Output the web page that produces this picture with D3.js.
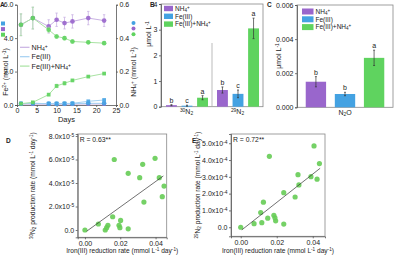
<!DOCTYPE html>
<html>
<head>
<meta charset="utf-8">
<script src="https://cdn.jsdelivr.net/npm/d3@7"></script>
<style>
  body { margin: 0; background: #fff; }
  svg { display: block; }
</style>
</head>
<body>
<div id="chart"></div>
<script>
// ---- Panel A: time course ----
const days = [1, 4, 8, 10, 12, 14, 18, 22];
// Fe2+ (left axis, squares)
const fe2NH4 = [0.05, 0.05, 0.05, 0.05, 0.05, 0.05, 0.06, 0.06];
const fe2Fe = [0.08, 0.1, 0.08, 0.08, 0.09, 0.1, 0.22, 0.3];
const fe2FeNH4 = [0.08, 0.16, 0.62, 1.14, 1.3, 1.47, 1.7, 1.88];
const fe2FeNH4Err = [0.02, 0.03, 0.06, 0.1, 0.1, 0.06, 0.05, 0.05];
// NH4+ (right axis, circles)
const nh4Fe = [0.008, 0.01, 0.008, 0.008, 0.008, 0.008, 0.01, 0.01];
const nh4NH4 = [0.48, 0.52, 0.47, 0.51, 0.49, 0.50, 0.52, 0.505];
const nh4NH4Err = [0.065, 0.065, 0.04, 0.04, 0.035, 0.04, 0.04, 0.035];
const nh4FeNH4 = [0.48, 0.52, 0.45, 0.41, 0.40, 0.38, 0.375, 0.37];
const nh4FeNH4Err = [0.065, 0.065, 0.015, 0.01, 0.01, 0.01, 0.008, 0.008];

// ---- Panels B, C: bars ----
const treatments = ['NH4+', 'Fe(III)', 'Fe(III)+NH4+'];
const treatmentLabels = ['NH_{4}^{+}', 'Fe(III)', 'Fe(III)+NH_{4}^{+}'];
const isotopes = ['30N2', '29N2'];
const isotopeLabels = ['^{30}N_{2}', '^{29}N_{2}'];
const n30Mean = [0.06, 0.04, 0.35];
const n30Err = [0.02, 0.02, 0.08];
const n30Letters = ['b', 'c', 'a'];
const n29Mean = [0.65, 0.50, 3.05];
const n29Err = [0.12, 0.15, 0.4];
const n29Letters = ['b', 'c', 'a'];
const n2oMean = [0.0015, 0.00078, 0.0029];
const n2oErr = [0.0003, 0.0001, 0.00045];
const n2oLetters = ['b', 'b', 'a'];

// ---- Panels D, E: scatter vs iron(III) reduction rate ----
const dX = [0, 0.0076, 0.0115, 0.0123, 0.013, 0.0157, 0.0166, 0.0193, 0.0198, 0.0202, 0.0245, 0.0245, 0.031, 0.0327, 0.0334, 0.0397, 0.0421, 0.0438, 0.0448];
const dY = [0, 0.51e-5, 0.0, 0.2e-5, 0.4e-5, 1.13e-5, 6.0e-5, 0.4e-5, 0.2e-5, 0.82e-5, 4.82e-5, 0.1e-5, 4.45e-5, 5.59e-5, 2.38e-5, 6.1e-5, 4.45e-5, 2.84e-5, 3.74e-5];
const dFitX = [0.001, 0.0444];
const dFitY = [-0.1e-5, 4.6e-5];
const dR = 'R = 0.63**';

const eX = [0, 0.0074, 0.0111, 0.0117, 0.0126, 0.015, 0.0159, 0.0184, 0.019, 0.0194, 0.0239, 0.0239, 0.0302, 0.0318, 0.0323, 0.039, 0.0407, 0.0424, 0.0437];
const eY = [0, 0.21e-4, 0.87e-4, 0.27e-4, 1.49e-4, 0.54e-4, 4.22e-4, 0.71e-4, 0.56e-4, 0.38e-4, 2.06e-4, 0.19e-4, 1.8e-4, 3.13e-4, 2.52e-4, 3.01e-4, 4.84e-4, 2.86e-4, 3.79e-4];
const eFitX = [0.0006, 0.0441];
const eFitY = [-0.16e-4, 3.51e-4];
const eR = 'R = 0.72**';

const FONT = "'Liberation Sans', Arial, sans-serif";
const PURPLE = '#9966cc', BLUE = '#44a2e2', GREEN = '#5fd35f';
const colors = [PURPLE, BLUE, GREEN];
const AXIS = '#555';

const svg = d3.select('#chart').append('svg')
    .attr('width', 400).attr('height', 258)
    .style('font-family', FONT);

// text with _{sub} and ^{sup}; shifts in px from the font size
function rich(sel, str, size) {
    const re = /([_^])\{([^}]*)\}/g;
    let last = 0, m;
    sel.text(null);
    while ((m = re.exec(str))) {
        if (m.index > last) sel.append('tspan').text(str.slice(last, m.index));
        sel.append('tspan')
            .attr('baseline-shift', m[1] === '^' ? (0.34 * size).toFixed(2) : (-0.13 * size).toFixed(2))
            .attr('font-size', (0.7 * size).toFixed(2))
            .text(m[2]);
        last = re.lastIndex;
    }
    if (last < str.length) sel.append('tspan').text(str.slice(last));
    return sel;
}

function label(x, y, str, size, opts = {}) {
    const t = svg.append('text')
        .attr('x', x).attr('y', y)
        .attr('font-size', size)
        .attr('fill', '#222')
        .attr('text-anchor', opts.anchor || 'start');
    if (opts.rotate) t.attr('transform', `rotate(-90,${x},${y})`);
    if (opts.bold) t.attr('font-weight', 'bold');
    return rich(t, str, size);
}

function styleAxis(g, size = 7) {
    g.attr('font-family', FONT).attr('font-size', size);
    g.select('.domain').attr('stroke', AXIS).attr('stroke-width', 0.8);
    g.selectAll('.tick line').attr('stroke', AXIS).attr('stroke-width', 0.8);
    g.selectAll('.tick text').attr('fill', '#222');
    return g;
}

function box(x, y) {
    svg.append('rect')
        .attr('x', x.range()[0]).attr('y', y.range()[1])
        .attr('width', x.range()[1] - x.range()[0])
        .attr('height', y.range()[0] - y.range()[1])
        .attr('fill', 'none').attr('stroke', '#888').attr('stroke-width', 0.8);
}

// ================= Panel A =================
const xA = d3.scaleLinear().domain([0, 25]).range([17, 116]);
const yAL = d3.scaleLinear().domain([0, 6]).range([105, 4.7]);
const yAR = d3.scaleLinear().domain([0, 0.6]).range([105, 4.7]);

styleAxis(svg.append('g').attr('transform', `translate(0,${yAL(0)})`)
    .call(d3.axisBottom(xA).tickValues([0, 5, 10, 15, 20, 25]).tickSize(2).tickPadding(1.5)));
styleAxis(svg.append('g').attr('transform', `translate(${xA(0)},0)`)
    .call(d3.axisLeft(yAL).tickValues([0, 2, 4, 6]).tickSize(2).tickPadding(1.5)));
styleAxis(svg.append('g').attr('transform', `translate(${xA(25)},0)`)
    .call(d3.axisRight(yAR).tickValues([0, 0.2, 0.4, 0.6]).tickFormat(d3.format('.1f')).tickSize(2).tickPadding(1.5)));

const lineColors = ['#c9b2e3', '#a3d0f2', '#a9e3a3'];

function seriesA(vals, errs, y, col, lineCol, shape) {
    const pts = days.map((d, i) => ({ x: d, y: vals[i], e: errs ? errs[i] : 0 }));
    svg.append('path').datum(pts)
        .attr('d', d3.line().x(d => xA(d.x)).y(d => y(d.y)))
        .attr('fill', 'none').attr('stroke', lineCol).attr('stroke-width', 1);
    if (errs) {
        const g = svg.append('g').attr('stroke', lineCol).attr('stroke-width', 0.8);
        pts.forEach(p => {
            g.append('line').attr('x1', xA(p.x)).attr('x2', xA(p.x))
                .attr('y1', y(p.y - p.e)).attr('y2', y(p.y + p.e));
            [p.y - p.e, p.y + p.e].forEach(v => g.append('line')
                .attr('x1', xA(p.x) - 1.2).attr('x2', xA(p.x) + 1.2)
                .attr('y1', y(v)).attr('y2', y(v)));
        });
    }
    const sym = d3.symbol().type(shape === 'square' ? d3.symbolSquare : d3.symbolCircle).size(shape === 'square' ? 14 : 17);
    svg.append('g').selectAll('path').data(pts).join('path')
        .attr('transform', d => `translate(${xA(d.x)},${y(d.y)})`)
        .attr('d', sym)
        .attr('fill', col).attr('fill-opacity', 0.9);
}

seriesA(fe2NH4, null, yAL, PURPLE, lineColors[0], 'square');
seriesA(nh4Fe, null, yAR, BLUE, lineColors[1], 'circle');
seriesA(fe2Fe, null, yAL, BLUE, lineColors[1], 'square');
seriesA(fe2FeNH4, fe2FeNH4Err, yAL, GREEN, lineColors[2], 'square');
seriesA(nh4NH4, nh4NH4Err, yAR, PURPLE, lineColors[0], 'circle');
seriesA(nh4FeNH4, nh4FeNH4Err, yAR, GREEN, lineColors[2], 'circle');

// legend inside A
treatmentLabels.forEach((t, i) => {
    const y = 47.3 + i * 9.4;
    svg.append('line').attr('x1', 20).attr('x2', 29.5).attr('y1', y).attr('y2', y)
        .attr('stroke', lineColors[i]).attr('stroke-width', 1.2);
    label(31.5, y + 2.5, t, 7.2);
});
// colour keys beside the axis titles
[BLUE, PURPLE, GREEN].forEach((c, i) => {
    const y = 23.5 + i * 5.6;
    svg.append('rect').attr('x', 1).attr('y', y - 2).attr('width', 4).attr('height', 4).attr('fill', c);
    svg.append('circle').attr('cx', 133.5).attr('cy', y - 0.5).attr('r', 2).attr('fill', c);
});
label(7.5, 72, 'Fe^{2+} (mmol L^{-1})', 7, { rotate: true, anchor: 'middle' });
label(135.5, 72, 'NH_{4}^{+} (mmol L^{-1})', 7, { rotate: true, anchor: 'middle' });
label(66.5, 122, 'Days', 7.5, { anchor: 'middle' });
label(0, 6.5, 'A', 6.5, { bold: true });

// ================= Panel B =================
const xB0 = d3.scaleBand().domain(isotopes).range([161, 263]);
const xB1 = d3.scaleBand().domain(treatments).range([5, 47]).paddingInner(0.3);
const yB = d3.scaleLinear().domain([0, 4]).range([106.7, 4]);
box(d3.scaleLinear().range([161, 263]), yB);
styleAxis(svg.append('g').attr('transform', `translate(161,0)`)
    .call(d3.axisLeft(yB).ticks(4).tickSize(2).tickPadding(1.5)));
svg.append('line').attr('x1', xB0('29N2')).attr('x2', xB0('29N2'))
    .attr('y1', 43).attr('y2', yB(0)).attr('stroke', '#aaa').attr('stroke-width', 0.8);

function bars(xOf, w, y, means, errs, letters) {
    means.forEach((m, i) => {
        const x = xOf(i);
        svg.append('rect').attr('x', x).attr('y', y(m)).attr('width', w)
            .attr('height', y(0) - y(m)).attr('fill', colors[i]);
        const cx = x + w / 2;
        const g = svg.append('g').attr('stroke', '#333').attr('stroke-width', 0.7);
        g.append('line').attr('x1', cx).attr('x2', cx).attr('y1', y(Math.max(0, m - errs[i]))).attr('y2', y(m + errs[i]));
        [m - errs[i], m + errs[i]].forEach(v => g.append('line')
            .attr('x1', cx - 1).attr('x2', cx + 1).attr('y1', y(Math.max(0, v))).attr('y2', y(Math.max(0, v))));
        label(cx, y(m + errs[i]) - 2, letters[i], 7, { anchor: 'middle' });
    });
}
bars(i => xB0('30N2') + xB1(treatments[i]), xB1.bandwidth(), yB, n30Mean, n30Err, n30Letters);
bars(i => xB0('29N2') + xB1(treatments[i]), xB1.bandwidth(), yB, n29Mean, n29Err, n29Letters);
isotopes.forEach((iso, i) => label(xB0(iso) + xB0.bandwidth() / 2, 113.5, isotopeLabels[i], 7, { anchor: 'middle' }));
treatmentLabels.forEach((t, i) => {
    const y = 8.5 + i * 7.8;
    svg.append('rect').attr('x', 164).attr('y', y - 2.7).attr('width', 9).attr('height', 5.4).attr('fill', colors[i]);
    label(175, y + 2.3, t, 6.5);
});
label(151, 34, 'μmol L^{-1}', 7, { rotate: true, anchor: 'middle' });
label(150, 6.5, 'B', 6.5, { bold: true });

// ================= Panel C =================
const xC = d3.scaleBand().domain(treatments).range([297, 393]).padding(0.3);
const yC = d3.scaleLinear().domain([0, 0.006]).range([107.3, 5]);
box(d3.scaleLinear().range([297, 393]), yC);
styleAxis(svg.append('g').attr('transform', `translate(297,0)`)
    .call(d3.axisLeft(yC).tickValues([0, 0.002, 0.004, 0.006]).tickFormat(d3.format('.3f')).tickSize(2).tickPadding(1.5)));
bars(i => xC(treatments[i]), xC.bandwidth(), yC, n2oMean, n2oErr, n2oLetters);
label(345, 115, 'N_{2}O', 7, { anchor: 'middle' });
treatmentLabels.forEach((t, i) => {
    const y = 11.5 + i * 7.8;
    svg.append('rect').attr('x', 302).attr('y', y - 3).attr('width', 11.5).attr('height', 6).attr('fill', colors[i]);
    label(315.5, y + 2.3, t, 6.5);
});
label(281, 56, 'μmol L^{-1}', 7, { rotate: true, anchor: 'middle' });
label(267, 6.5, 'C', 6.5, { bold: true });

// ================= Panels D, E =================
function scatterPanel(xs, ys, fitX, fitY, rText, xRange, xDomain, yRange, yDomain, yTicks, exp, yTitle, letter, letterX, titleX) {
    const x = d3.scaleLinear().domain(xDomain).range(xRange);
    const y = d3.scaleLinear().domain(yDomain).range(yRange);
    box(x, y);
    styleAxis(svg.append('g').attr('transform', `translate(0,${yRange[0]})`)
        .call(d3.axisBottom(x).tickValues([0, 0.02, 0.04]).tickFormat(d3.format('.2f')).tickSize(2).tickPadding(1.5)));
    const ya = styleAxis(svg.append('g').attr('transform', `translate(${xRange[0]},0)`)
        .call(d3.axisLeft(y).tickValues(yTicks).tickSize(2).tickPadding(1.5)));
    ya.selectAll('.tick text').each(function (d) {
        rich(d3.select(this), d === 0 ? '0.0' : (d / Math.pow(10, exp)).toFixed(1) + 'x10^{' + exp + '}', 7);
    });
    svg.append('g').selectAll('circle').data(xs).join('circle')
        .attr('cx', d => x(d)).attr('cy', (d, i) => y(ys[i])).attr('r', 2.6)
        .attr('fill', '#66cc55').attr('fill-opacity', 0.9);
    svg.append('line')
        .attr('x1', x(fitX[0])).attr('y1', y(fitY[0]))
        .attr('x2', x(fitX[1])).attr('y2', y(fitY[1]))
        .attr('stroke', '#333').attr('stroke-width', 0.7);
    label(xRange[0] + 2, yRange[1] + 8, rText, 6.8);
    const cx = (xRange[0] + xRange[1]) / 2;
    label(cx, 252.5, 'Iron(III) reduction rate (mmol L^{-1} day^{-1})', 6.6, { anchor: 'middle' });
    label(titleX, (yRange[0] + yRange[1]) / 2, yTitle, 6.6, { rotate: true, anchor: 'middle' });
    label(letterX, 143, letter, 6.5, { bold: true });
}

scatterPanel(dX, dY, dFitX, dFitY, dR, [77.7, 166.7], [-0.0041, 0.0463], [237.3, 134], [-0.62e-5, 8.17e-5],
    [0, 2e-5, 4e-5, 6e-5, 8e-5], -5, '^{30}N_{2} production rate (mmol L^{-1} day^{-1})', 'D', 6, 35);
scatterPanel(eX, eY, eFitX, eFitY, eR, [231, 325], [-0.0054, 0.0468], [236.3, 134], [-0.54e-4, 5.55e-4],
    [0, 1e-4, 2e-4, 3e-4, 4e-4, 5e-4], -4, '^{29}N_{2} production rate (mmol L^{-1} day^{-1})', 'E', 192, 200);
</script>
</body>
</html>
